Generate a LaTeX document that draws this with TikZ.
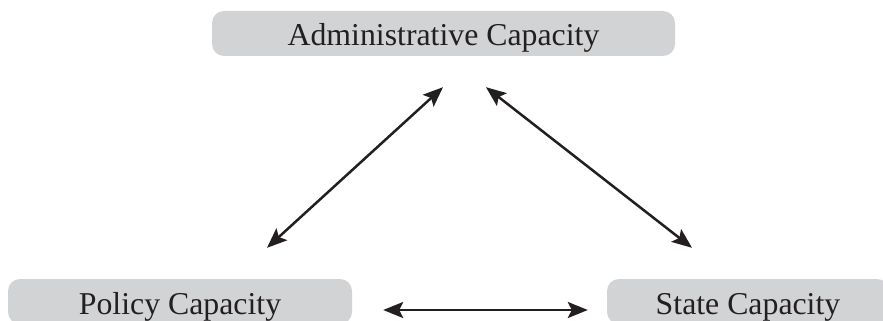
\documentclass[tikz,border=0pt]{standalone}
\usepackage{fontspec}
\setmainfont{Liberation Serif}
\usetikzlibrary{arrows.meta,calc}
\definecolor{boxgray}{RGB}{210,211,213}
\definecolor{inkblack}{RGB}{35,31,32}
\begin{document}
\begin{tikzpicture}[x=1pt,y=-1pt,line join=round,
	capbox/.style={fill=boxgray,rounded corners=12pt,minimum height=45pt,inner sep=0pt,text=inkblack,
		text height=27pt,text depth=2pt,font=\fontsize{31.8}{36}\selectfont},
	link/.style={draw=inkblack,line width=2.5pt,{Stealth[length=20pt,width=16pt,inset=4pt]}-{Stealth[length=20pt,width=16pt,inset=4pt]}}]
		%==Khung trang
		\useasboundingbox (0,0) rectangle (883,321);
		\clip (0,0) rectangle (883,321);
		%==Cac o
		\node[capbox,minimum width=463pt] (admin) at (443.5,33.5) {Administrative Capacity};
		\node[capbox,minimum width=344pt] (policy) at (180,301.5) {Policy Capacity};
		\node[capbox,minimum width=282pt] (state) at (748,301.5) {State Capacity};
		%==Mui ten
		\draw[link] ($(policy.north)+(87,-31)$)--($(admin.south)+(-0.5,31)$);
		\draw[link] ($(admin.south)+(42.5,31)$)--($(state.north)+(-56,-31)$);
		\draw[link] ($(policy.east)+(31,8.5)$)--($(state.west)+(-19,8.5)$);
		\end{tikzpicture}
\end{document}
